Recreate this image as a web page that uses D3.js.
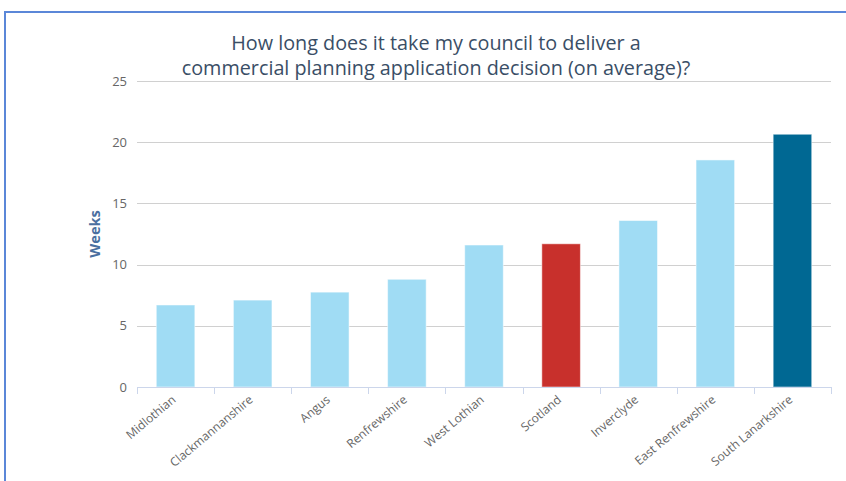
<!DOCTYPE html>
<html>
<head>
<meta charset="utf-8">
<script src="https://cdn.jsdelivr.net/npm/d3@7/dist/d3.min.js"></script>
<style>
  html, body { margin: 0; padding: 0; background: #fff; }
  svg { display: block; font-family: "Open Sans", sans-serif; }
</style>
</head>
<body>
<svg id="chart" width="846" height="481"></svg>
<script>
const categories = ["Midlothian", "Clackmannanshire", "Angus", "Renfrewshire", "West Lothian", "Scotland", "Inverclyde", "East Renfrewshire", "South Lanarkshire"];
const values = [6.7, 7.1, 7.75, 8.8, 11.6, 11.7, 13.6, 18.55, 20.65];
const barColors = ["#a0dcf4", "#a0dcf4", "#a0dcf4", "#a0dcf4", "#a0dcf4", "#c8302c", "#a0dcf4", "#a0dcf4", "#006893"];
const yTicks = [0, 5, 10, 15, 20, 25];
const titleLines = ["How long does it take my council to deliver a", "commercial planning application decision (on average)?"];
const yTitle = "Weeks";

const svg = d3.select("#chart");
const W = 846, H = 481;
const m = { left: 137, right: 831, top: 81, bottom: 387 };

// outer frame
svg.append("rect")
  .attr("x", 5).attr("y", 12)
  .attr("width", W + 10).attr("height", H + 10)
  .attr("fill", "none").attr("stroke", "#5b87d8").attr("stroke-width", 2);

const x = d3.scaleBand().domain(categories).range([m.left, m.right]).paddingInner(0).paddingOuter(0);
const y = d3.scaleLinear().domain([0, 25]).range([m.bottom, m.top]);

// gridlines
svg.append("g").selectAll("line").data(yTicks.filter(d => d > 0)).join("line")
  .attr("x1", m.left).attr("x2", m.right)
  .attr("y1", d => Math.round(y(d)) + 0.5).attr("y2", d => Math.round(y(d)) + 0.5)
  .attr("stroke", "#d0d0d0").attr("stroke-width", 1);

// y labels
svg.append("g").selectAll("text").data(yTicks).join("text")
  .attr("x", 127).attr("y", d => y(d) + 4.5)
  .attr("text-anchor", "end")
  .attr("font-size", 13).attr("fill", "#666")
  .text(d => d);

// y title
svg.append("text")
  .attr("transform", `translate(99.5,${(m.top + m.bottom) / 2}) rotate(-90)`)
  .attr("text-anchor", "middle")
  .attr("font-size", 14.5).attr("font-weight", "bold").attr("fill", "#4a6fa0")
  .text(yTitle);

// bars
const bw = x.bandwidth() * 0.5;
svg.append("g").selectAll("rect").data(categories).join("rect")
  .attr("x", d => x(d) + (x.bandwidth() - bw) / 2)
  .attr("y", (d, i) => y(values[i]))
  .attr("width", bw)
  .attr("height", (d, i) => y(0) - y(values[i]))
  .attr("fill", (d, i) => barColors[i])
  .attr("stroke", "rgba(255,255,255,0.5)").attr("stroke-width", 1);

// x axis line and ticks
const axisColor = "#ccd6eb";
svg.append("line")
  .attr("x1", m.left).attr("x2", m.right)
  .attr("y1", m.bottom + 0.5).attr("y2", m.bottom + 0.5)
  .attr("stroke", axisColor).attr("stroke-width", 1);
const tickPos = categories.map(c => x(c)).concat([m.right]);
svg.append("g").selectAll("line").data(tickPos).join("line")
  .attr("x1", d => Math.round(d) + 0.5).attr("x2", d => Math.round(d) + 0.5)
  .attr("y1", m.bottom).attr("y2", m.bottom + 7)
  .attr("stroke", axisColor).attr("stroke-width", 1);

// x labels
svg.append("g").selectAll("text").data(categories).join("text")
  .attr("transform", d => `translate(${x(d) + x.bandwidth() / 2 + 1},${m.bottom + 14}) rotate(-40)`)
  .attr("text-anchor", "end")
  .attr("font-size", 12).attr("fill", "#666")
  .text(d => d);

// title
svg.append("g").selectAll("text").data(titleLines).join("text")
  .attr("x", 436).attr("y", (d, i) => 50 + i * 25)
  .attr("text-anchor", "middle")
  .attr("font-size", 19.8).attr("fill", "#3a4e66")
  .text(d => d);
</script>
</body>
</html>
